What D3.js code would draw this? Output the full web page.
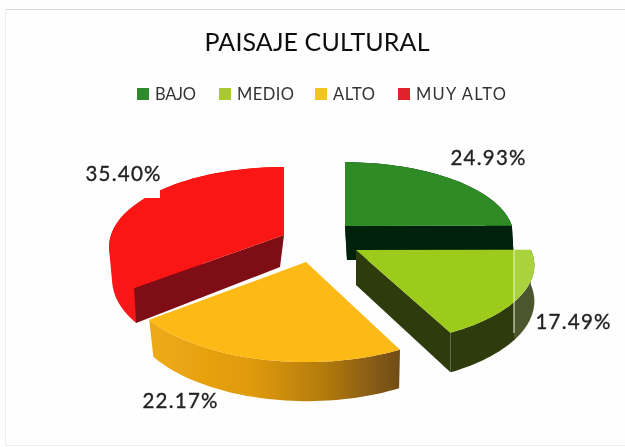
<!DOCTYPE html>
<html><head><meta charset="utf-8">
<script src="https://cdn.jsdelivr.net/npm/d3@7/dist/d3.min.js"></script>
<style>html,body{margin:0;padding:0;background:#fff}svg{display:block}text{font-family:Lato,"Open Sans",sans-serif}</style>
</head><body><div id="c"></div>
<script>
const categories = ["BAJO","MEDIO","ALTO","MUY ALTO"];
const values = [24.93,17.49,22.17,35.40];
const valueLabels = ["24.93%","17.49%","22.17%","35.40%"];
const colors = ["#2e8b25","#9ccb1c","#fdb913","#fb1313"];
const legendColors = ["#2f8a2c","#a9c92f","#f2c41c","#e2222c"];
const faceColors = ["#06240d","#2f3a0d","#b07c10","#7f0a12"];
const title = "PAISAJE CULTURAL";

const W=625,H=447;
const sliceLayout = [
  {cx:345,cy:226,rx:167,ry:75,d:34,dx:2,bx:1,k:.15,faces:[1,1]},
  {cx:356,cy:250,rx:175,ry:79,d:35,dx:0,bx:1,k:.2,faces:[0,1]},
  {cx:306,cy:262,rx:181,ry:87,d:34,dx:1,bx:.98,k:.15,faces:[0,0]},
  {cx:284,cy:235,rx:173,ry:80,d:32,dx:-4,bx:.96,k:.15,faces:[1,0],hull:true}
];
const legendX=[137,219,315,398];
const labelPos=[[488,165],[573,329],[180,408],[123,181]];

const svg=d3.select("#c").append("svg").attr("width",W).attr("height",H);
const defs=svg.append("defs");
defs.append("filter").attr("id","soft").append("feGaussianBlur").attr("stdDeviation",.45);
const g1=defs.append("linearGradient").attr("id","wallY").attr("gradientUnits","userSpaceOnUse")
  .attr("x1",152).attr("x2",402).attr("y1",0).attr("y2",0);
[[0,"#eeaa14"],[.4,"#e09a0e"],[.68,"#b47c10"],[1,"#6f4a14"]].forEach(s=>g1.append("stop").attr("offset",s[0]).attr("stop-color",s[1]));

svg.append("rect").attr("width",W).attr("height",H).attr("fill","#fefefe");
svg.append("path").attr("d",`M${W},9.5H5.5`).attr("fill","none").attr("stroke","#d9d9d9").attr("stroke-width",1);
svg.append("path").attr("d",`M5.5,9.5V445.5H${W}`).attr("fill","none").attr("stroke","#eeeeee").attr("stroke-width",1);

const arcs=d3.pie().sort(null).value(d=>d)(values);
const line=d3.line().x(d=>d[0]).y(d=>d[1]);
function proj(L,a,r,down){
  const p=1+L.k*(-Math.cos(a))*r;
  const dz=down?L.d*(1+.15*(-Math.cos(a))*r):0;
  const sx=down?L.bx:1;
  return [L.cx+sx*L.rx*r*Math.sin(a)*p+(down?L.dx:0), L.cy-L.ry*r*Math.cos(a)*p+dz];
}
function arcPts(L,a0,a1,down){
  const n=48, s=d3.scaleLinear().domain([0,n]).range([a0,a1]);
  return d3.range(n+1).map(i=>proj(L,s(i),1,down));
}
const wallFill=["#06240d","#2f3a0d","url(#wallY)","#f91313"];
const chart=svg.append("g").attr("filter","url(#soft)");
[3,0,1,2].forEach(i=>{
  const L=sliceLayout[i],a=arcs[i],g=chart.append("g");
  const wall=arcPts(L,a.startAngle,a.endAngle,false).concat(arcPts(L,a.startAngle,a.endAngle,true).reverse());
  g.append("path").attr("d",line(L.hull?d3.polygonHull(wall):wall)+"Z").attr("fill",wallFill[i]);
  [a.startAngle,a.endAngle].forEach((t,j)=>{
    if(!L.faces[j]) return;
    const q=[proj(L,t,0),proj(L,t,1),proj(L,t,1,true),proj(L,t,0,true)];
    g.append("path").attr("d",line(q)+"Z").attr("fill",faceColors[i]);
  });
  const top=[proj(L,0,0)].concat(arcPts(L,a.startAngle,a.endAngle,false));
  g.append("path").attr("d",line(top)+"Z").attr("fill",colors[i]);
});
// scan artefacts of the source picture: label box clipping the red slice, seam on the light-green slice
chart.append("rect").attr("x",70).attr("y",160).attr("width",90).attr("height",38).attr("fill","#fefefe");
chart.append("rect").attr("x",514).attr("y",248).attr("width",20).attr("height",90).attr("fill","#fff").attr("opacity",.14);
chart.append("line").attr("x1",514).attr("x2",514).attr("y1",250).attr("y2",333).attr("stroke","#eef3e0").attr("stroke-width",1);

const txt=svg.append("g").attr("filter","url(#soft)");
txt.append("text").attr("x",317).attr("y",51).attr("text-anchor","middle")
  .attr("font-size",25).attr("fill","#111").attr("textLength",225).text(title);
const lg=txt.selectAll("g.l").data(categories).join("g").attr("class","l");
const widths=[41,57,42,90];
lg.append("rect").attr("x",(d,i)=>legendX[i]).attr("y",88).attr("width",12).attr("height",12).attr("fill",(d,i)=>legendColors[i]);
lg.append("text").attr("x",(d,i)=>legendX[i]+18).attr("y",100).attr("font-size",16.5).attr("fill","#333")
  .attr("textLength",(d,i)=>widths[i]).text(d=>d);
txt.selectAll("text.v").data(valueLabels).join("text").attr("class","v")
  .attr("x",(d,i)=>labelPos[i][0]).attr("y",(d,i)=>labelPos[i][1]).attr("text-anchor","middle")
  .attr("font-size",20.5).attr("fill","#222").attr("stroke","#222").attr("stroke-width",.35)
  .attr("textLength",75).text(d=>d);
</script></body></html>
